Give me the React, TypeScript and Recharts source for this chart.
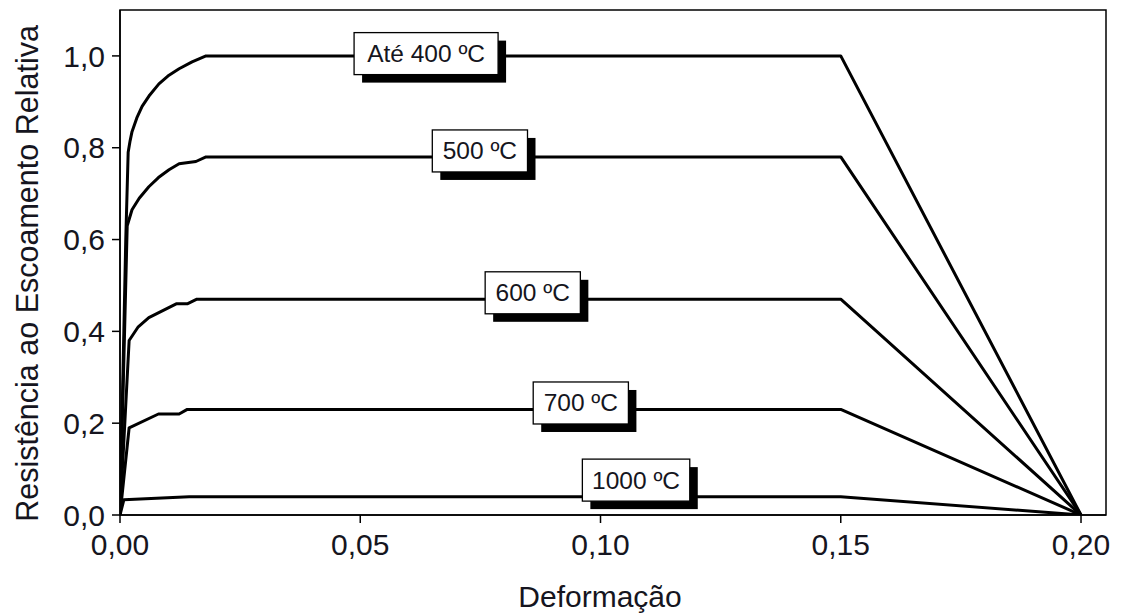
import React from "react";
import {
  LineChart,
  Line,
  XAxis,
  YAxis,
  ReferenceArea,
  ReferenceDot,
} from "recharts";

// Strain (x) vs relative yield strength (y), one series per temperature
const curve400 = [
  { x: 0, y: 0 },
  { x: 0.0012, y: 0.6 },
  { x: 0.0017, y: 0.79 },
  { x: 0.0021, y: 0.815 },
  { x: 0.0025, y: 0.835 },
  { x: 0.0035, y: 0.865 },
  { x: 0.0046, y: 0.89 },
  { x: 0.0062, y: 0.915 },
  { x: 0.0081, y: 0.939 },
  { x: 0.0102, y: 0.958 },
  { x: 0.0123, y: 0.972 },
  { x: 0.015, y: 0.987 },
  { x: 0.0179, y: 1.0 },
  { x: 0.15, y: 1.0 },
  { x: 0.2, y: 0 },
];
const curve500 = [
  { x: 0, y: 0 },
  { x: 0.0015, y: 0.63 },
  { x: 0.0025, y: 0.665 },
  { x: 0.004, y: 0.69 },
  { x: 0.006, y: 0.715 },
  { x: 0.008, y: 0.735 },
  { x: 0.0102, y: 0.752 },
  { x: 0.0123, y: 0.765 },
  { x: 0.0158, y: 0.77 },
  { x: 0.0179, y: 0.78 },
  { x: 0.15, y: 0.78 },
  { x: 0.2, y: 0 },
];
const curve600 = [
  { x: 0, y: 0 },
  { x: 0.0019, y: 0.38 },
  { x: 0.0038, y: 0.41 },
  { x: 0.006, y: 0.43 },
  { x: 0.0117, y: 0.46 },
  { x: 0.014, y: 0.46 },
  { x: 0.016, y: 0.47 },
  { x: 0.15, y: 0.47 },
  { x: 0.2, y: 0 },
];
const curve700 = [
  { x: 0, y: 0 },
  { x: 0.0019, y: 0.19 },
  { x: 0.008, y: 0.22 },
  { x: 0.0123, y: 0.22 },
  { x: 0.014, y: 0.23 },
  { x: 0.15, y: 0.23 },
  { x: 0.2, y: 0 },
];
const curve1000 = [
  { x: 0, y: 0 },
  { x: 0.0008, y: 0.033 },
  { x: 0.0144, y: 0.04 },
  { x: 0.15, y: 0.04 },
  { x: 0.2, y: 0 },
];
const series = [curve400, curve500, curve600, curve700, curve1000];

// Curve labels (text, anchor point in data units)
const curveLabels = [
  { text: "Até 400 ºC", x: 0.0637, y: 1.005 },
  { text: "500 ºC", x: 0.0749, y: 0.793 },
  { text: "600 ºC", x: 0.0859, y: 0.484 },
  { text: "700 ºC", x: 0.0959, y: 0.244 },
  { text: "1000 ºC", x: 0.1074, y: 0.076 },
];

const xTicks = [0, 0.05, 0.1, 0.15, 0.2];
const yTicks = [0, 0.2, 0.4, 0.6, 0.8, 1.0];
const xDomainMax = 0.2052;
const yDomainMax = 1.1;

const xTitle = "Deformação";
const yTitle = "Resistência ao Escoamento Relativa";

const FONT = "'Liberation Sans', Arial, Helvetica, sans-serif";
const TEXT = "#151520";

const LabelBox = (props: any) => {
  const { cx, cy, text } = props;
  if (cx == null || cy == null) return null;
  const w = text.length * 12.2 + 22;
  const h = 42;
  const x = cx - w / 2;
  const y = cy - h / 2;
  return (
    <g>
      <rect x={x + 8} y={y + 8} width={w} height={h} fill="#000" />
      <rect x={x} y={y} width={w} height={h} fill="#fff" stroke="#000" strokeWidth={1.3} />
      <text
        x={cx}
        y={cy + 8.5}
        textAnchor="middle"
        fontFamily={FONT}
        fontSize={24.5}
        fill={TEXT}
      >
        {text}
      </text>
    </g>
  );
};

export default function App() {
  return (
    <div style={{ position: "absolute", left: 0, top: 0, background: "#fff" }}>
      <LineChart
        width={1123}
        height={613}
        margin={{ top: 10, right: 17, bottom: 0, left: 0 }}
      >
        <XAxis
          type="number"
          dataKey="x"
          domain={[0, xDomainMax]}
          allowDataOverflow
          ticks={xTicks}
          tickFormatter={(v: number) => v.toFixed(2).replace(".", ",")}
          height={98}
          stroke="#000"
          strokeWidth={1.5}
          tickSize={8}
          tickMargin={11}
          tick={{ fill: TEXT, fontSize: 30, fontFamily: FONT }}
          label={{
            content: (p: any) => {
              const vb = p.viewBox || {};
              return (
                <text
                  x={vb.x + vb.width / 2 - 13}
                  y={vb.y + 92}
                  textAnchor="middle"
                  fontFamily={FONT}
                  fontSize={30}
                  fill={TEXT}
                >
                  {xTitle}
                </text>
              );
            },
          }}
        />
        <YAxis
          type="number"
          dataKey="y"
          domain={[0, yDomainMax]}
          allowDataOverflow
          ticks={yTicks}
          tickFormatter={(v: number) => v.toFixed(1).replace(".", ",")}
          width={120}
          stroke="#000"
          strokeWidth={1.5}
          tickSize={8}
          tickMargin={7}
          tick={{ fill: TEXT, fontSize: 30, fontFamily: FONT }}
          label={{
            content: (p: any) => {
              const vb = p.viewBox || {};
              const cx = vb.x + 38;
              const cy = vb.y + vb.height / 2 + 11;
              return (
                <text
                  x={cx}
                  y={cy}
                  transform={`rotate(-90, ${cx}, ${cy})`}
                  textAnchor="middle"
                  fontFamily={FONT}
                  fontSize={30.5}
                  fill={TEXT}
                >
                  {yTitle}
                </text>
              );
            },
          }}
        />
        <ReferenceArea
          x1={0}
          x2={xDomainMax}
          y1={0}
          y2={yDomainMax}
          fill="none"
          stroke="#000"
          strokeWidth={1.5}
          ifOverflow="visible"
        />
        {series.map((d, i) => (
          <Line
            key={i}
            data={d}
            dataKey="y"
            type="linear"
            stroke="#000"
            strokeWidth={3}
            strokeLinejoin="round"
            dot={false}
            activeDot={false}
            isAnimationActive={false}
          />
        ))}
        {curveLabels.map((l, i) => (
          <ReferenceDot
            key={`lbl${i}`}
            x={l.x}
            y={l.y}
            r={0}
            ifOverflow="visible"
            shape={(p: any) => <LabelBox cx={p.cx} cy={p.cy} text={l.text} />}
          />
        ))}
      </LineChart>
    </div>
  );
}
